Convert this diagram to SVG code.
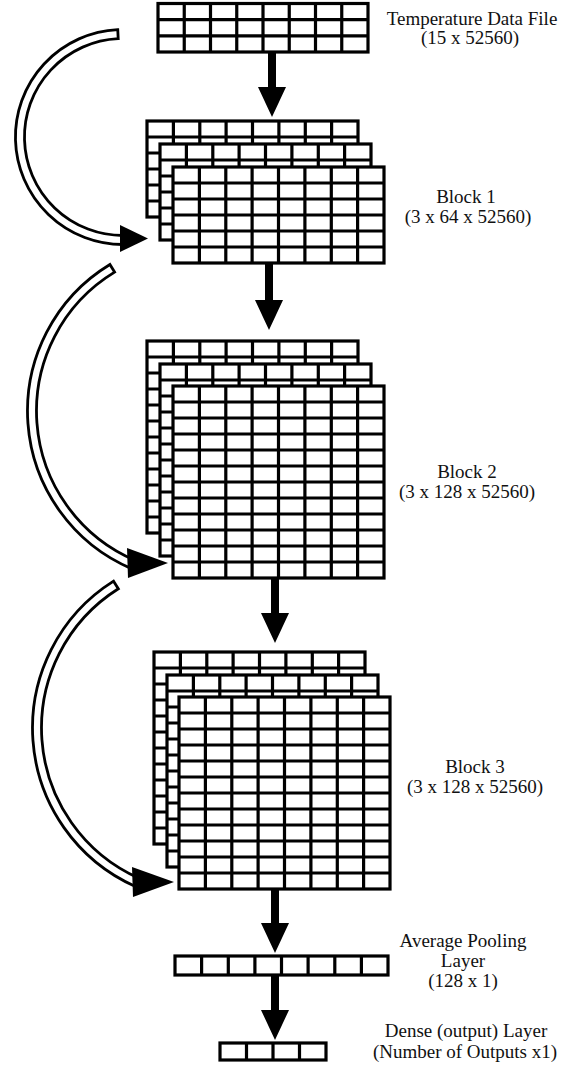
<svg xmlns="http://www.w3.org/2000/svg" xmlns:xlink="http://www.w3.org/1999/xlink" width="567" height="1066" viewBox="0 0 567 1066">
  <style>
    .grid { fill: #ffffff; stroke: #000000; stroke-width: 3.2; stroke-linejoin: miter; }
    .cells { fill: none; stroke: #000000; stroke-width: 3.2; }
    .label { font-family: "Liberation Serif", "Times New Roman", serif; font-size: 19px; fill: #111111; text-anchor: middle; }
    .shaft { stroke: #000000; stroke-width: 8; fill: none; marker-end: url(#head); }
    .band { fill: #ffffff; stroke: #000000; stroke-width: 2.8; stroke-linejoin: miter; }
    .tip { fill: #000000; }
  </style>
  <defs>
    <marker id="head" markerUnits="userSpaceOnUse" viewBox="0 0 30 28" refX="4" refY="14" markerWidth="30" markerHeight="28" orient="auto">
      <path d="M0,0 L30,14 L0,28 Z" fill="#000000"/>
    </marker>
    <!-- one feature-map layer: 8 columns x 6 rows -->
    <g id="layer6">
      <rect class="grid" x="0" y="0" width="211" height="96"/>
      <path class="cells" d="M26.4 0V96M52.8 0V96M79.1 0V96M105.5 0V96M131.9 0V96M158.3 0V96M184.6 0V96M0 16H211M0 32H211M0 48H211M0 64H211M0 80H211"/>
    </g>
    <!-- one feature-map layer: 8 columns x 12 rows -->
    <g id="layer12">
      <rect class="grid" x="0" y="0" width="211" height="192"/>
      <path class="cells" d="M26.4 0V192M52.8 0V192M79.1 0V192M105.5 0V192M131.9 0V192M158.3 0V192M184.6 0V192M0 16H211M0 32H211M0 48H211M0 64H211M0 80H211M0 96H211M0 112H211M0 128H211M0 144H211M0 160H211M0 176H211"/>
    </g>
  </defs>

  <rect x="0" y="0" width="567" height="1066" fill="#ffffff"/>

  <!-- connectors: skip connections (hollow arcs) and forward arrows -->
  <g id="connectors">
    <path class="band" d="M117.75,29.63 A107.5,107.5 0 0 0 123.94,244.5 L123.86,235.5 A98.5,98.5 0 0 1 118.19,38.62 Z"/>
    <polygon class="tip" points="120,225 120,252 148,238.5"/>

    <path class="band" d="M109.91,264.45 A171.5,171.5 0 0 0 131.99,568.87 L135.51,560.58 A162.5,162.5 0 0 1 114.58,272.14 Z"/>
    <polygon class="tip" points="127,548 128,578 168,563"/>

    <path class="band" d="M113.54,581.18 A173.5,173.5 0 0 0 135.44,886.49 L139.1,878.27 A164.5,164.5 0 0 1 118.34,588.8 Z"/>
    <polygon class="tip" points="132,867 133,897 174,882"/>

    <line class="shaft" x1="272" y1="52" x2="272" y2="91"/>
    <line class="shaft" x1="269" y1="263" x2="269" y2="304"/>
    <line class="shaft" x1="275" y1="578" x2="275" y2="617"/>
    <line class="shaft" x1="275" y1="888" x2="275" y2="927"/>
    <line class="shaft" x1="275" y1="975" x2="275" y2="1014"/>
  </g>

  <!-- input data file -->
  <g id="input-file">
    <rect class="grid" x="158" y="3.5" width="210" height="48.5"/>
    <path class="cells" d="M184.25 3.5V52M210.5 3.5V52M236.75 3.5V52M263 3.5V52M289.25 3.5V52M315.5 3.5V52M341.75 3.5V52M158 19.7H368M158 35.8H368"/>
    <text class="label" x="472" y="25">Temperature Data File</text>
    <text class="label" x="470" y="44">(15 x 52560)</text>
  </g>

  <!-- block 1 -->
  <g id="block-1">
    <use xlink:href="#layer6" x="147" y="121"/>
    <use xlink:href="#layer6" x="160" y="144"/>
    <use xlink:href="#layer6" x="173" y="167"/>
    <text class="label" x="466" y="203">Block 1</text>
    <text class="label" x="468" y="223">(3 x 64 x 52560)</text>
  </g>

  <!-- block 2 -->
  <g id="block-2">
    <use xlink:href="#layer12" x="147" y="341"/>
    <use xlink:href="#layer12" x="160" y="364"/>
    <use xlink:href="#layer12" x="173" y="386"/>
    <text class="label" x="467" y="478">Block 2</text>
    <text class="label" x="467" y="498">(3 x 128 x 52560)</text>
  </g>

  <!-- block 3 -->
  <g id="block-3">
    <use xlink:href="#layer12" x="154" y="652"/>
    <use xlink:href="#layer12" x="167" y="675"/>
    <use xlink:href="#layer12" x="179" y="697"/>
    <text class="label" x="475" y="773">Block 3</text>
    <text class="label" x="475" y="793">(3 x 128 x 52560)</text>
  </g>

  <!-- average pooling layer -->
  <g id="avg-pool">
    <rect class="grid" x="175" y="956" width="213" height="19"/>
    <path class="cells" d="M201.6 956V975M228.3 956V975M254.9 956V975M281.5 956V975M308.1 956V975M334.8 956V975M361.4 956V975"/>
    <text class="label" x="463" y="947">Average Pooling</text>
    <text class="label" x="463" y="967">Layer</text>
    <text class="label" x="463" y="987">(128 x 1)</text>
  </g>

  <!-- dense output layer -->
  <g id="dense-out">
    <rect class="grid" x="220" y="1043" width="106" height="17"/>
    <path class="cells" d="M246.5 1043V1060M273 1043V1060M299.5 1043V1060"/>
    <text class="label" x="466" y="1037">Dense (output) Layer</text>
    <text class="label" x="465" y="1058">(Number of Outputs x1)</text>
  </g>
</svg>
